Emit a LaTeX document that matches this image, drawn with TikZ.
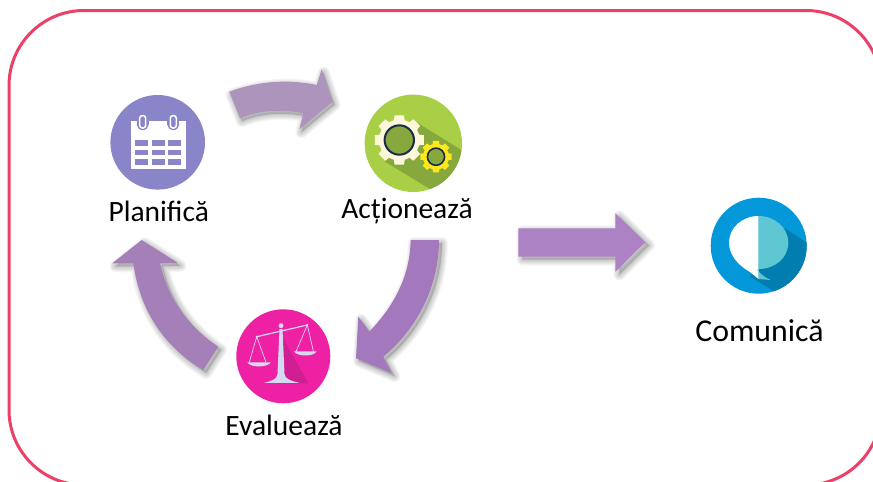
\documentclass[tikz,border=0pt]{standalone}
\usepackage{fontspec}
\setmainfont{Carlito}
\definecolor{frameC}{HTML}{EC4068}
\definecolor{arrA}{HTML}{AD94BD}
\definecolor{arrB}{HTML}{A478BC}
\definecolor{arrC}{HTML}{A580B8}
\definecolor{arrD}{HTML}{AD82C4}
\definecolor{calC}{HTML}{8A84C9}
\definecolor{grnC}{HTML}{A8CF45}
\definecolor{grnD}{HTML}{86A83C}
\definecolor{pnkC}{HTML}{EE21A4}
\definecolor{pnkD}{HTML}{D01F92}
\definecolor{bluC}{HTML}{0498DB}
\definecolor{bluD}{HTML}{027DB0}
\definecolor{tealC}{HTML}{5EC7D2}
\definecolor{creamC}{HTML}{FDF8DC}
\definecolor{yelC}{HTML}{FFE81A}
\definecolor{navyC}{HTML}{1B2A4A}
\definecolor{scaleC}{HTML}{D5DAF0}
\newcommand{\softshadow}[3]{%
  \fill[black,opacity=0.16,shift={(#1,#2)}] #3;
  \foreach \w in {12,10,8,6,4,2}{
    \draw[black,opacity=0.035,line width=\w pt,line join=round,shift={(#1,#2)}] #3;
  }}
\newcommand{\gearshape}[5]{% cx cy router rinner color
  \fill[#5,shift={(#1,#2)}] (-11:#3)
    \foreach \a in {0,45,...,315}{
      -- (\a-11:#3) -- (\a+11:#3) -- (\a+15:#4) -- (\a+30:#4) -- (\a+34:#3)
    } -- cycle;}
\tikzset{
  lbl/.style={font=\fontsize{29.5}{32}\selectfont,text=black,inner sep=0pt,anchor=center},
  lblbig/.style={lbl,font=\fontsize{31.8}{34}\selectfont},
  iconbg/.style={circle,inner sep=0pt,minimum size=#1},
}
\begin{document}
\begin{tikzpicture}[x=1pt,y=-1pt]
\useasboundingbox (0,0) rectangle (873,482);
\fill[white] (0,0) rectangle (873,482);
% frame
\begin{scope}
\clip (0,0) rectangle (873,482);
\draw[frameC,line width=3pt,rounded corners=75pt] (9,10.5) rectangle (881,485);
\end{scope}
% arrows
\def\arrowA{(229.3,91.7) .. controls (258,81) and (288,79) .. (316.7,85) -- (321.7,69.3) -- (332.7,101.7) -- (299.3,129.3) -- (303.3,113.3) .. controls (282,109) and (260,110) .. (240,118.3) -- cycle}
\softshadow{2}{3}{\arrowA}
\fill[arrA] \arrowA;
\def\arrowB{(410.7,240) .. controls (410,275) and (395,305) .. (369.3,331.7) -- (358.3,316.7) -- (356,358.3) -- (391.7,373.3) -- (383.3,356.7) .. controls (418,328) and (439,285) .. (439,240) -- cycle}
\softshadow{3}{3}{\arrowB}
\fill[arrB] \arrowB;
\def\arrowC{(218.3,346.7) .. controls (190,328) and (168,300) .. (160,263.3) -- (177.7,262.7) -- (141.7,240) -- (112.3,263.3) -- (133.3,263.3) .. controls (140,312) and (165,347) .. (203.3,370) -- cycle}
\softshadow{3}{3}{\arrowC}
\fill[arrC] \arrowC;
\def\arrowD{(518.3,228.3) -- (615.3,228.3) -- (615.3,213.3) -- (645,242.3) -- (615.3,271.7) -- (615.3,256.7) -- (518.3,256.7) -- cycle}
\softshadow{4}{3}{\arrowD}
\fill[arrD] \arrowD;
% Planifica icon
\node[iconbg=94.6pt,fill=calC] (plan) at (157.7,142.3) {};
\begin{scope}
\fill[white] (130.7,120.5) -- (185.7,120.5) -- (185.7,169.3) -- (130.7,169.3) -- cycle;
\foreach \x in {135,151.7,167.7}\foreach \y in {140,149.5,159}{
  \fill[calC] (\x,\y) rectangle ++(12.8,5.6);}
\foreach \x in {142.7,173.3}{
  \fill[calC] (\x-6,119) rectangle (\x+6,124.5);
  \fill[calC] (\x,124.5) ellipse[x radius=6pt,y radius=5.6pt];
  \draw[white,line width=1.5pt,rounded corners=2.6pt] (\x-3,115.6) rectangle (\x+3,128);
}
\end{scope}
\node[lbl] (planL) at (158.8,211) {Planifică};
% Actioneaza icon
\node[iconbg=97.4pt,fill=grnC] (act) at (413.3,143.3) {};
\begin{scope}
\clip (413.3,143.3) circle[radius=48.7pt];
\fill[grnD] (418.3,123.3) -- (470,155.5) -- (470,215) -- (430,189) -- (385,161.7) -- cycle;
\end{scope}
\gearshape{399.3}{140}{25}{20.5}{creamC}
\fill[grnD,draw=navyC,line width=2pt] (399.3,140) circle[radius=14.7pt];
\gearshape{436}{156.7}{16}{13}{yelC}
\fill[grnD,draw=navyC,line width=1.6pt] (436,156.7) circle[radius=8.6pt];
\node[lbl] (actL) at (407,211) {Acționează};
% Evalueaza icon
\node[iconbg=94pt,fill=pnkC] (eval) at (283.3,356.3) {};
\fill[pnkD] (283.3,338.3) -- (308.3,383.3) -- (278.3,383.3) -- cycle;
\begin{scope}[scaleC]
\fill (279.5,329) -- (282.5,329) -- (284.5,374) .. controls (285,379) and (291,381) .. (299,382.8) -- (264.3,382.8) .. controls (272,381) and (277,379) .. (277.5,374) -- cycle;
\draw[line width=1.2pt] (256.7,336.7) -- (307.3,325);
\fill (281,325.7) circle[radius=2.5pt];
\fill (256.7,336.7) circle[radius=1.1pt];
\fill (307.3,325) circle[radius=1.1pt];
\draw[line width=.7pt] (249.3,362.3) -- (256.7,336.7) -- (266,362.3);
\draw[line width=.7pt] (296,351.7) -- (307.3,325) -- (313.5,351.7);
\fill (247.3,362.3) -- (270.7,362.3) .. controls (268,367.8) and (250,367.8) .. (247.3,362.3) -- cycle;
\fill (294,351.4) -- (316.7,351.4) .. controls (314,356.8) and (297,356.8) .. (294,351.4) -- cycle;
\end{scope}
\node[lbl] (evalL) at (284,425) {Evaluează};
% Comunica icon
\node[iconbg=96pt,fill=bluC] (com) at (758.7,245.7) {};
\begin{scope}
\clip (758.7,245.7) circle[radius=48pt];
\fill[bluD] (785,228.3) -- (812,246) -- (812,310) -- (773,290.7) -- (750,276.7) -- cycle;
\end{scope}
\fill[white] (758.5,216) .. controls (742,216) and (729,228) .. (729,242.5) .. controls (729,257) and (741,267) .. (750,272) -- (758.5,279) -- cycle;
\fill[tealC] (758.5,216) .. controls (775,216) and (788.3,228) .. (788.3,242.5) .. controls (788.3,258) and (775,269) .. (758.5,269) -- (757,270) .. controls (760,273) and (765,278) .. (770.7,280) -- (758.5,279) -- cycle;
\node[lblbig] (comL) at (759.5,331) {Comunică};
\end{tikzpicture}
\end{document}
